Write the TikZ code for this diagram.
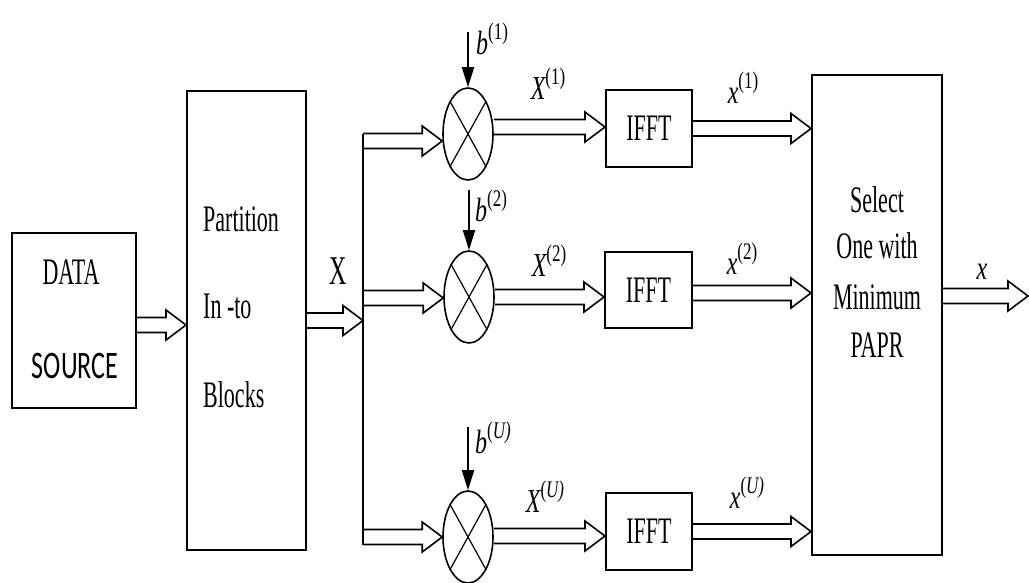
\documentclass[tikz,border=0pt]{standalone}
\usepackage{fontspec}
\setmainfont{Liberation Serif}
\newfontfamily\srcfont{Carlito}
\usepackage{tikz}
\usetikzlibrary{shapes.geometric, arrows.meta, positioning, calc}

\newcommand{\tall}[1]{\scalebox{1}[1.7]{#1}}
\newcommand{\chanlbl}[2]{\scalebox{1}[1.4]{{\itshape #1}\raisebox{0.45em}{\fontsize{17}{20}\selectfont(#2)}}}

\tikzset{
  blockbox/.style={draw, line width=2pt, inner sep=0pt},
  mixer/.style={draw, ellipse, line width=1.6pt, minimum width=50pt, minimum height=92pt, inner sep=0pt},
  fatarrow/.style={line width=1.6pt, line join=miter, to path={
    let \p1=(\tikztostart), \p2=(\tikztotarget) in
    (\x1,\y1+7.5pt) -- (\x2-20pt,\y1+7.5pt) -- (\x2-20pt,\y1+15pt) -- (\x2,\y1)
    -- (\x2-20pt,\y1-15pt) -- (\x2-20pt,\y1-7.5pt) -- (\x1,\y1-7.5pt)}},
  tapline/.style={line width=1.8pt, -{Triangle[length=20pt,width=12pt]}},
  boxtext/.style={font=\fontsize{22}{26}\selectfont, inner sep=0pt},
  sigtext/.style={font=\fontsize{24}{28}\selectfont, inner sep=0pt}
}

\begin{document}
\begin{tikzpicture}[x=1pt, y=-1pt]
  \useasboundingbox (0,0) rectangle (1029,582);

  % Blocks
  \node[blockbox, minimum width=124pt, minimum height=175pt] (src) at (74,320.5) {};
  \node[blockbox, minimum width=119pt, minimum height=459pt] (part) at (246.5,320.5) {};
  \node[blockbox, minimum width=130pt, minimum height=480pt] (sel) at (877,315) {};
  \node[blockbox, minimum width=86pt, minimum height=77pt] (fft1) at (649,128.5) {};
  \node[blockbox, minimum width=87pt, minimum height=76pt] (fft2) at (648.5,290) {};
  \node[blockbox, minimum width=86pt, minimum height=77pt] (fft3) at (649,531.5) {};

  % Block texts
  \node[boxtext] (srcA) at (71,272) {\tall{DATA}};
  \node[boxtext, font=\srcfont\fontsize{26}{30}\selectfont] (srcB) at (75,366) {\scalebox{1}[1.5]{SOURCE}};
  \foreach \txt/\yy [count=\i] in {Partition/219, In -to/306, Blocks/395}
    \node[boxtext, anchor=west] (pt\i) at (203,\yy) {\tall{\txt}};
  \foreach \txt/\yy [count=\i] in {Select/200, One with/246, Minimum/297, PAPR/345}
    \node[boxtext] (st\i) at (877,\yy) {\tall{\txt}};
  \foreach \k in {1,2,3}
    \node[boxtext] (ft\k) at (fft\k) {\tall{IFFT}};

  % Mixers
  \node[mixer] (m1) at (468,134) {};
  \node[mixer] (m2) at (469,297) {};
  \node[mixer] (m3) at (468,537) {};
  \foreach \k in {1,2,3}
    \draw[line width=1.2pt] (m\k.north west) -- (m\k.south east)
                            (m\k.north east) -- (m\k.south west);

  % Split line
  \coordinate (split) at (363,320);
  \coordinate (sTop) at (363,133.5);
  \coordinate (sBot) at (363,544.5);
  \coordinate (br1) at (363,141);
  \coordinate (br2) at (363,298);
  \coordinate (br3) at (363,537);
  \draw[line width=1.6pt] (sTop) -- (sBot);

  % Fat arrows
  \draw[fatarrow] ([yshift=-4.5pt]src.east) to (part.west);
  \draw[fatarrow] (part.east) to (split);
  \foreach \k in {1,2,3}
    \draw[fatarrow] (br\k) to (m\k.west);
  \draw[fatarrow] ([yshift=7pt]m1.east) to (fft1.west);
  \draw[fatarrow] (m2.east) to (fft2.west);
  \draw[fatarrow] ([yshift=1pt]m3.east) to (fft3.west);
  \draw[fatarrow] (fft1.east) to (sel.west);
  \draw[fatarrow] ([yshift=-3pt]fft2.east) to (sel.west);
  \draw[fatarrow] (fft3.east) to (sel.west);
  \coordinate (outend) at (1028,296);
  \draw[fatarrow] (sel.east |- outend) to (outend);

  % Phase taps
  \coordinate (tp1) at (468,32);
  \coordinate (tp2) at (469,190);
  \coordinate (tp3) at (468,427);
  \foreach \k in {1,2,3}
    \draw[tapline] (tp\k) -- (m\k.north);

  % Labels
  \node[sigtext] (lX) at (338,271) {\tall{X}};
  \node[sigtext] (lb1) at (492,39) {\chanlbl{b}{1}};
  \node[sigtext] (lb2) at (491,206) {\chanlbl{b}{2}};
  \node[sigtext] (lb3) at (493,438) {\chanlbl{b}{\itshape U}};
  \node[sigtext] (lX1) at (548,84) {\chanlbl{X}{1}};
  \node[sigtext] (lX2) at (549,261) {\chanlbl{X}{2}};
  \node[sigtext] (lX3) at (545,497) {\chanlbl{X}{\itshape U}};
  \node[sigtext] (lx1) at (743,88) {\chanlbl{x}{1}};
  \node[sigtext] (lx2) at (742,259) {\chanlbl{x}{2}};
  \node[sigtext] (lx3) at (747,493) {\chanlbl{x}{\itshape U}};
  \node[sigtext] (lout) at (982,272) {\scalebox{1}[1.4]{\itshape x}};
\end{tikzpicture}
\end{document}
